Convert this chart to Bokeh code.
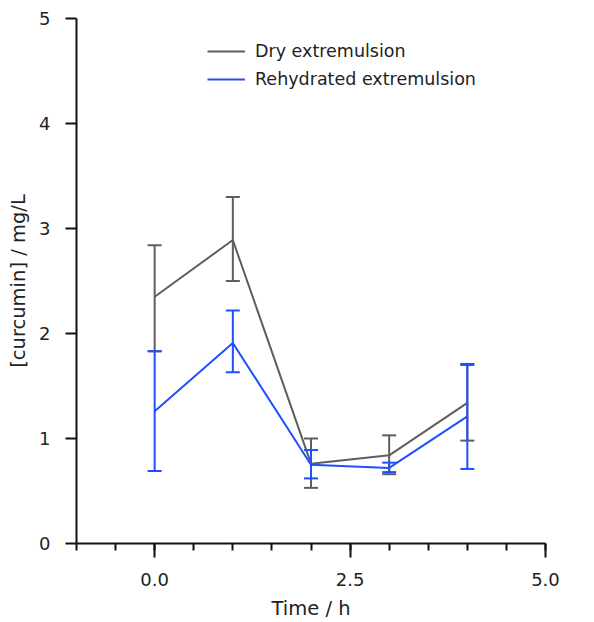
from bokeh.plotting import figure
from bokeh.models import (ColumnDataSource, Whisker, TeeHead, Legend, LegendItem,
                          FixedTicker, SingleIntervalTicker, PrintfTickFormatter, Range1d)
from bokeh.embed import file_html
from bokeh.resources import INLINE

# ---- data ----
time_h = [0, 1, 2, 3, 4]
dry_mean = [2.35, 2.89, 0.76, 0.84, 1.34]
dry_upper = [2.84, 3.30, 1.00, 1.03, 1.70]
dry_lower = [1.83, 2.50, 0.53, 0.66, 0.98]
rehyd_mean = [1.26, 1.91, 0.75, 0.72, 1.21]
rehyd_upper = [1.83, 2.22, 0.89, 0.77, 1.71]
rehyd_lower = [0.69, 1.63, 0.62, 0.68, 0.71]
y_ticks = [0, 1, 2, 3, 4, 5]
series_labels = ["Dry extremulsion", "Rehydrated extremulsion"]

GRAY = "#5e5e5e"
BLUE = "#1f4fff"
FONT = "DejaVu Sans"
TXT = "#222222"

p = figure(width=594, height=622, output_backend="svg", toolbar_location=None,
           x_range=Range1d(-1.0, 5.0), y_range=Range1d(0, 5),
           min_border_left=76, min_border_right=49, min_border_top=18, min_border_bottom=79)
p.outline_line_color = None
p.xgrid.visible = False
p.ygrid.visible = False
p.background_fill_color = "white"
p.border_fill_color = "white"

src_dry = ColumnDataSource(dict(x=time_h, y=dry_mean, upper=dry_upper, lower=dry_lower))
src_reh = ColumnDataSource(dict(x=time_h, y=rehyd_mean, upper=rehyd_upper, lower=rehyd_lower))

l_dry = p.line("x", "y", source=src_dry, line_color=GRAY, line_width=2)
w_dry = Whisker(source=src_dry, base="x", upper="upper", lower="lower", level="glyph",
                line_color=GRAY, line_width=2,
                upper_head=TeeHead(size=14, line_color=GRAY, line_width=2),
                lower_head=TeeHead(size=14, line_color=GRAY, line_width=2))
p.add_layout(w_dry)

l_reh = p.line("x", "y", source=src_reh, line_color=BLUE, line_width=2)
w_reh = Whisker(source=src_reh, base="x", upper="upper", lower="lower", level="glyph",
                line_color=BLUE, line_width=2,
                upper_head=TeeHead(size=14, line_color=BLUE, line_width=2),
                lower_head=TeeHead(size=14, line_color=BLUE, line_width=2))
p.add_layout(w_reh)

# ---- axes ----
xa = p.xaxis[0]
xa.ticker = SingleIntervalTicker(interval=2.5, num_minor_ticks=5)
xa.formatter = PrintfTickFormatter(format="%.1f")
xa.axis_label = "Time / h"
ya = p.yaxis[0]
ya.ticker = FixedTicker(ticks=y_ticks)
ya.axis_label = "[curcumin] / mg/L"

for ax in (xa, ya):
    ax.axis_line_color = "#111111"
    ax.axis_line_width = 2
    ax.major_tick_line_color = "#111111"
    ax.major_tick_line_width = 2
    ax.minor_tick_line_color = "#111111"
    ax.minor_tick_line_width = 2
    ax.major_tick_in = 0
    ax.minor_tick_in = 0
    ax.major_label_text_font = FONT
    ax.major_label_text_font_size = "18px"
    ax.major_label_text_color = TXT
    ax.axis_label_text_font = FONT
    ax.axis_label_text_font_size = "19.5px"
    ax.axis_label_text_font_style = "normal"
    ax.axis_label_text_color = TXT

xa.major_tick_out = 14
xa.minor_tick_out = 7
xa.major_label_standoff = 15
xa.axis_label_standoff = 8

ya.major_tick_out = 11
ya.minor_tick_out = 0
ya.minor_tick_line_color = None
ya.major_label_standoff = 15
ya.axis_label_standoff = 6

legend = Legend(items=[LegendItem(label=series_labels[0], renderers=[l_dry]),
                       LegendItem(label=series_labels[1], renderers=[l_reh])],
                location=(131, 453), border_line_color=None, background_fill_alpha=0,
                padding=0, margin=0, spacing=6, glyph_width=38, glyph_height=22,
                label_height=22, label_standoff=10,
                label_text_font=FONT, label_text_font_size="17.5px", label_text_color=TXT)
p.add_layout(legend)

open("out.html", "w").write(file_html(p, INLINE))
